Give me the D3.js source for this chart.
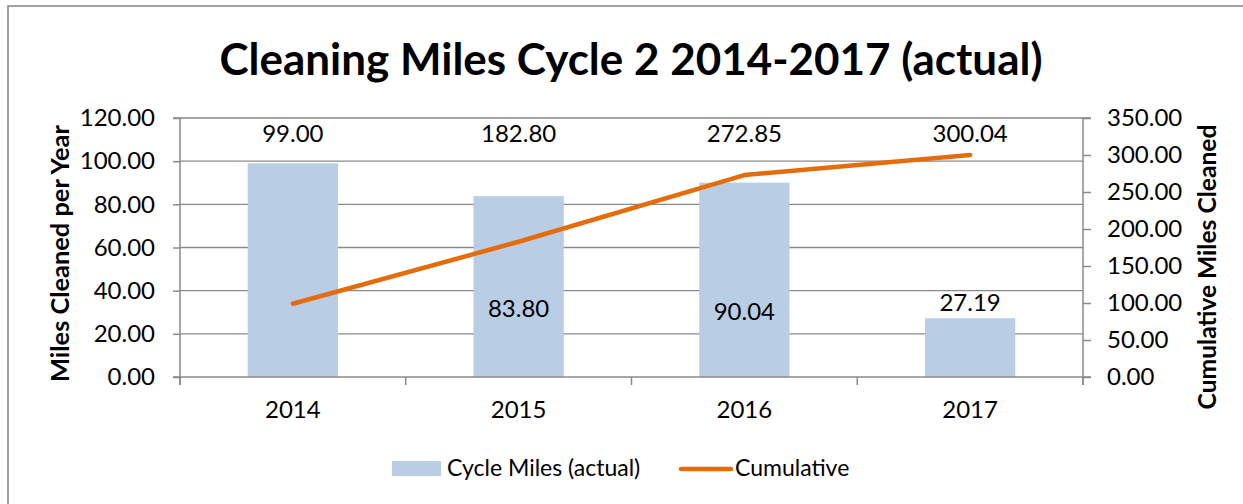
<!DOCTYPE html>
<html><head><meta charset="utf-8">
<script src="https://cdn.jsdelivr.net/npm/d3@7"></script>
<style>body{margin:0;background:#fff}svg{display:block}text{font-family:Lato,"Open Sans",sans-serif;fill:#000}</style>
</head><body><svg id="c" width="1243" height="504"></svg>
<script>
const years = ["2014","2015","2016","2017"];
const cycleMiles = [99.00, 83.80, 90.04, 27.19];
const cumulative = [99.00, 182.80, 272.85, 300.04];
const leftTicks = [0,20,40,60,80,100,120];
const rightTicks = [0,50,100,150,200,250,300,350];
const title = "Cleaning Miles Cycle 2 2014-2017 (actual)";
const leftTitle = "Miles Cleaned per Year";
const rightTitle = "Cumulative Miles Cleaned";
const legendLabels = ["Cycle Miles (actual)", "Cumulative"];

const svg = d3.select("#c");
const L=180,R=1083,T=118,B=377;
const gray="#8a8a8a", barColor="#B9CDE5", lineColor="#E46C0A";
const FS=24;

svg.append("rect").attr("x",8).attr("y",6).attr("width",1260).attr("height",520)
  .attr("fill","#fff").attr("stroke",gray).attr("stroke-width",1.6);

const x = d3.scaleBand().domain(years).range([L,R]).paddingInner(0.6).paddingOuter(0.3);
const yL = d3.scaleLinear().domain([0,120]).range([B,T]);
const yR = d3.scaleLinear().domain([0,350]).range([B,T]);

function fit(sel, w){ let fs=+sel.attr("font-size"); const cur=sel.node().getComputedTextLength(); sel.attr("font-size", fs*w/cur); }

// gridlines
svg.append("g").selectAll("line").data(leftTicks.slice(1)).join("line")
  .attr("x1",L).attr("x2",R).attr("y1",d=>yL(d)).attr("y2",d=>yL(d))
  .attr("stroke",gray).attr("stroke-width",1.3);

// bars
svg.append("g").selectAll("rect").data(cycleMiles).join("rect")
  .attr("x",(d,i)=>x(years[i])).attr("width",x.bandwidth())
  .attr("y",d=>yL(d)).attr("height",d=>B-yL(d)).attr("fill",barColor);

// axes
const fmt = d3.format(".2f");
const ax = svg.append("g").attr("transform",`translate(${L},0)`)
  .call(d3.axisLeft(yL).tickValues(leftTicks).tickFormat(fmt).tickSize(7).tickPadding(18));
const axR = svg.append("g").attr("transform",`translate(${R},0)`)
  .call(d3.axisRight(yR).tickValues(rightTicks).tickFormat(fmt).tickSize(8).tickPadding(16));
[ax,axR].forEach(a=>{
  a.selectAll("path,line").attr("stroke",gray).attr("stroke-width",1.5);
  a.selectAll("text").attr("font-size",FS).attr("font-family","Lato");
});
ax.select(".domain").attr("d",`M-7,${T}H0V${B+8}`);
axR.select(".domain").attr("d",`M8,${T}H0V${B+8}`);

// x axis
const step = x.step(), off=(x.step()-x.bandwidth())/2;
const bounds = years.map(d=>x(d)-off).concat([x(years[years.length-1])-off+step]);
svg.append("line").attr("x1",L-7).attr("x2",R+8).attr("y1",B).attr("y2",B).attr("stroke",gray).attr("stroke-width",1.5);
svg.append("g").selectAll("line").data(bounds).join("line")
  .attr("x1",d=>d).attr("x2",d=>d).attr("y1",B).attr("y2",B+8).attr("stroke",gray).attr("stroke-width",1.5);
svg.append("g").selectAll("text").data(years).join("text")
  .attr("x",d=>x(d)+x.bandwidth()/2).attr("y",B+33).attr("dy","0.35em").attr("text-anchor","middle")
  .attr("font-size",FS).text(d=>d);

// line
const line = d3.line().x((d,i)=>x(years[i])+x.bandwidth()/2).y(d=>yR(d));
svg.append("path").datum(cumulative).attr("d",line).attr("fill","none")
  .attr("stroke",lineColor).attr("stroke-width",4.5).attr("stroke-linecap","round").attr("stroke-linejoin","round");

// data labels: cumulative in top row
svg.append("g").selectAll("text").data(cumulative).join("text")
  .attr("x",(d,i)=>x(years[i])+x.bandwidth()/2).attr("y",yL(113)).attr("dy","0.35em")
  .attr("text-anchor","middle").attr("font-size",FS).text(d=>fmt(d));
// bar labels (2014 hidden behind cumulative label)
svg.append("g").selectAll("text").data(cycleMiles.slice(1)).join("text")
  .attr("x",(d,i)=>x(years[i+1])+x.bandwidth()/2)
  .attr("y",(d,i)=> i<2 ? yL(31.5)+ (i*3) : yL(d)-16).attr("dy","0.35em")
  .attr("text-anchor","middle").attr("font-size",FS).text(d=>fmt(d));

// title
const tt = svg.append("text").attr("x",631).attr("y",75).attr("text-anchor","middle")
  .attr("font-weight","bold").attr("font-size",40).text(title);
fit(tt,823);

// axis titles
const lt = svg.append("text").attr("transform","translate(69,253.5) rotate(-90)")
  .attr("text-anchor","middle").attr("font-weight","bold").attr("font-size",22).text(leftTitle);
fit(lt,257);
const rt = svg.append("text").attr("transform","translate(1216,267) rotate(-90)")
  .attr("text-anchor","middle").attr("font-weight","bold").attr("font-size",22).text(rightTitle);
fit(rt,285);

// legend
const lg = svg.append("g");
lg.append("rect").attr("x",392).attr("y",461).attr("width",49).attr("height",15).attr("fill",barColor);
lg.append("text").attr("x",447).attr("y",468).attr("dy","0.35em").attr("font-size",23).text(legendLabels[0]);
lg.append("line").attr("x1",681).attr("x2",731).attr("y1",469).attr("y2",469)
  .attr("stroke",lineColor).attr("stroke-width",4.5).attr("stroke-linecap","round");
lg.append("text").attr("x",735).attr("y",468).attr("dy","0.35em").attr("font-size",23).text(legendLabels[1]);
</script></body></html>
